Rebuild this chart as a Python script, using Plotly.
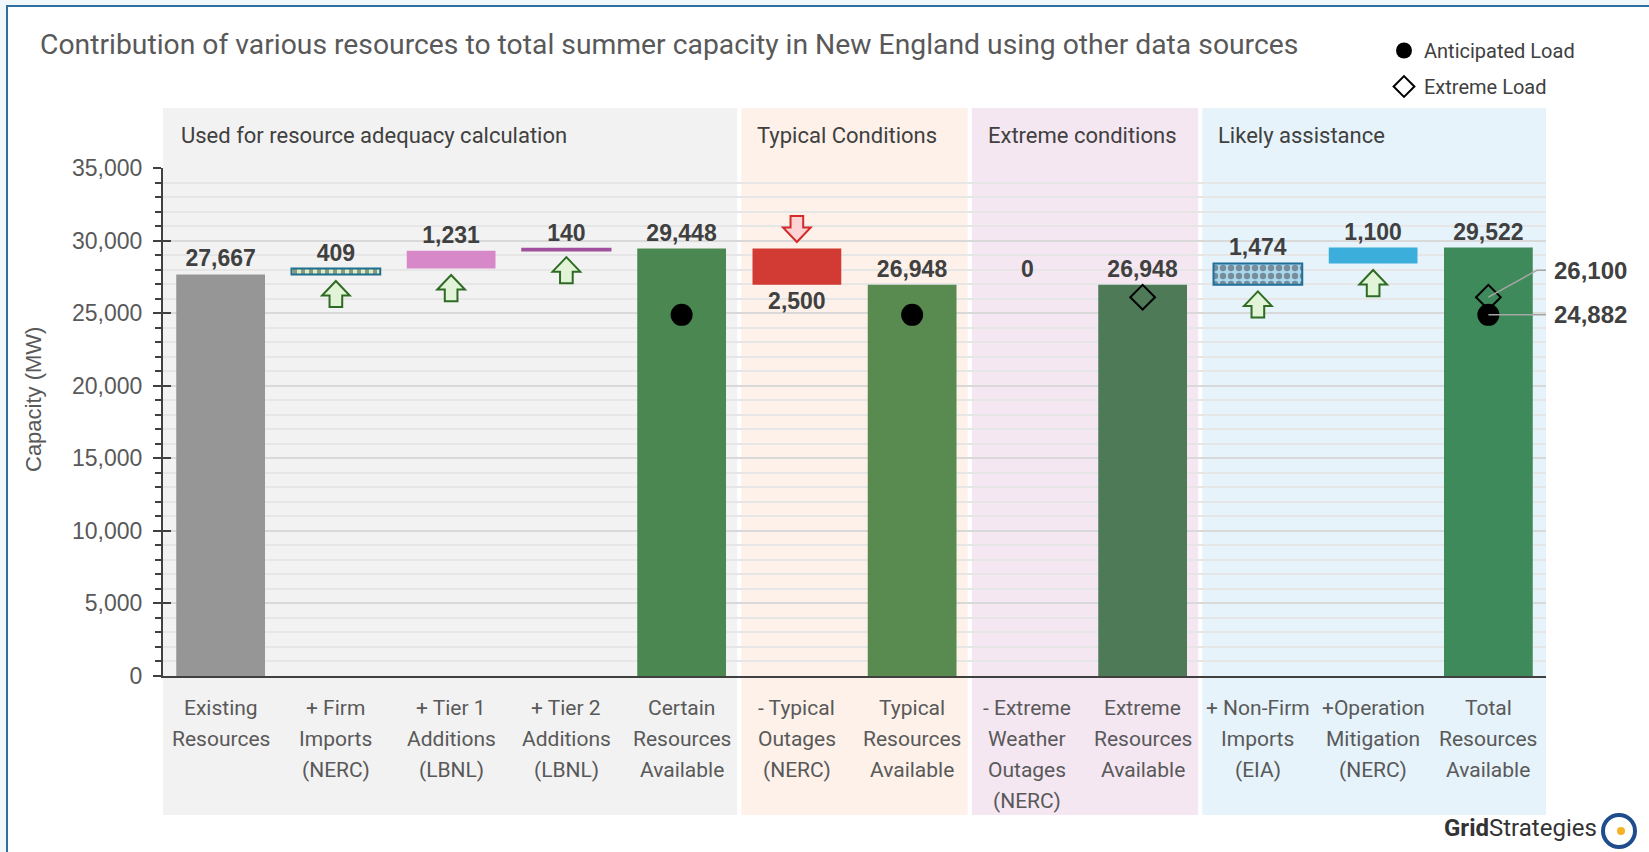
import plotly.graph_objects as go

# ---------------- data ----------------
categories = [
    "Existing<br>Resources",
    "+ Firm<br>Imports<br>(NERC)",
    "+ Tier 1<br>Additions<br>(LBNL)",
    "+ Tier 2<br>Additions<br>(LBNL)",
    "Certain<br>Resources<br>Available",
    "- Typical<br>Outages<br>(NERC)",
    "Typical<br>Resources<br>Available",
    "- Extreme<br>Weather<br>Outages<br>(NERC)",
    "Extreme<br>Resources<br>Available",
    "+ Non-Firm<br>Imports<br>(EIA)",
    "+Operation<br>Mitigation<br>(NERC)",
    "Total<br>Resources<br>Available",
]
values = [27667, 409, 1231, 140, 29448, -2500, 26948, 0, 26948, 1474, 1100, 29522]
kinds = ["total", "delta", "delta", "delta", "total", "delta", "total", "delta", "total", "delta", "delta", "total"]

anticipated_load = 24882
extreme_load = 26100
anticipated_x = [4, 6, 11]
extreme_x = [8, 11]

groups = [
    ("Used for resource adequacy calculation", 0, 4),
    ("Typical Conditions", 5, 6),
    ("Extreme conditions", 7, 8),
    ("Likely assistance", 9, 11),
]
group_colors = ["#f2f2f2", "#fdf1e9", "#f5e7f2", "#e6f3fa"]

bar_colors = ["#969696", "#d7efc5", "#d688c8", "#a0509c", "#4b8751", "#d23b33",
              "#598a4f", "#ffffff", "#4e7a58", "#a9d7ee", "#3caedb", "#3f8a5a"]
line_colors = ["#969696", "#1f6f8f", "#d688c8", "#a0509c", "#4b8751", "#d23b33",
               "#598a4f", "#ffffff", "#4e7a58", "#1f6f9b", "#3caedb", "#3f8a5a"]
line_widths = [0, 2, 0, 1.5, 0, 0, 0, 0, 0, 2, 0, 0]
pattern_shapes = ["", "|", "", "", "", "", "", "", "", ".", "", ""]
pattern_fg = ["#ffffff", "#2f7a50", "#ffffff", "#ffffff", "#ffffff", "#ffffff",
              "#ffffff", "#ffffff", "#ffffff", "#1f6f9b", "#ffffff", "#ffffff"]

# ---------------- derived ----------------
bases = []
running = 0
for v, k in zip(values, kinds):
    if k == "total":
        bases.append(0)
        running = v
    else:
        bases.append(running)
        running += v
labels = [f"{abs(v):,}" for v in values]
x_idx = list(range(len(categories)))

NARROW = "Roboto, sans-serif"
SANS = "Liberation Sans, Arial, sans-serif"

# pixel geometry helpers (plot area 163..1546 x, 168..676 y)
W, H = 1649, 852
L, R, T, B = 163, 103, 168, 176
pw, ph = W - L - R, H - T - B


def px(xp):
    return (xp - L) / pw


def py(yp):
    return (H - B - yp) / ph


fig = go.Figure()

fig.add_trace(go.Bar(
    x=x_idx, y=values, base=bases, width=0.77,
    marker=dict(color=bar_colors, line=dict(color=line_colors, width=line_widths),
                pattern=dict(shape=pattern_shapes, fgcolor=pattern_fg, size=8,
                             solidity=0.5, fillmode="overlay")),
    text=labels, textposition="outside", cliponaxis=False,
    textfont=dict(family=SANS, size=23, color="#404040", weight="bold"),
    constraintext="none", showlegend=False, hoverinfo="skip",
))

fig.add_trace(go.Scatter(
    x=extreme_x, y=[extreme_load] * len(extreme_x), mode="markers", name="Extreme Load",
    marker=dict(symbol="diamond-open", size=19, color="#000000", line=dict(width=2)),
    legendrank=2, legendgroup="ext", cliponaxis=False,
))
fig.add_trace(go.Scatter(
    x=anticipated_x, y=[anticipated_load] * len(anticipated_x), mode="markers",
    name="Anticipated Load",
    marker=dict(symbol="circle", size=22, color="#000000"),
    legendrank=1, legendgroup="ant", cliponaxis=False,
))

shapes = []
# outer frame
shapes.append(dict(type="rect", xref="paper", yref="paper", x0=px(7), x1=px(1700),
                   y0=py(900), y1=py(6), fillcolor="#ffffff",
                   line=dict(color="#2f6f9f", width=2), layer="below"))
# group panels
gap = 0.018
for (name, a, b), col in zip(groups, group_colors):
    x0 = a - 0.5 + (0 if a == 0 else gap)
    x1 = b + 0.5 - (0 if b == len(categories) - 1 else gap)
    shapes.append(dict(type="rect", xref="x", yref="paper", x0=x0, x1=x1,
                       y0=py(815), y1=py(108), fillcolor=col, line=dict(width=0),
                       layer="below"))

# arrows
AH, HEAD, GAP, HW, SW = 1800, 1000, 450, 0.12, 0.055
for i, (v, k, b) in enumerate(zip(values, kinds, bases)):
    if k != "delta" or v == 0:
        continue
    if v > 0:
        top = b - GAP
        bot = top - AH
        neck = top - HEAD
        path = (f"M {i},{top} L {i+HW},{neck} L {i+SW},{neck} L {i+SW},{bot} "
                f"L {i-SW},{bot} L {i-SW},{neck} L {i-HW},{neck} Z")
        shapes.append(dict(type="path", xref="x", yref="y", path=path,
                           fillcolor="#e2f4d8", line=dict(color="#2e6b23", width=2)))
    else:
        bot = b + GAP
        top = bot + AH
        neck = bot + HEAD
        path = (f"M {i},{bot} L {i+HW},{neck} L {i+SW},{neck} L {i+SW},{top} "
                f"L {i-SW},{top} L {i-SW},{neck} L {i-HW},{neck} Z")
        shapes.append(dict(type="path", xref="x", yref="y", path=path,
                           fillcolor="#fdd3d3", line=dict(color="#d42a2a", width=2)))

# leader lines on the last bar
last = len(categories) - 1
shapes.append(dict(type="line", xref="x", yref="y", x0=last, x1=last + 0.52,
                   y0=anticipated_load, y1=anticipated_load,
                   line=dict(color="#a6a6a6", width=1.5)))
elbow_y = extreme_load + 1850
shapes.append(dict(type="path", xref="x", yref="y",
                   path=f"M {last},{extreme_load} L {last+0.42},{elbow_y} L {last+0.52},{elbow_y}",
                   line=dict(color="#a6a6a6", width=1.5)))

# logo icon
shapes.append(dict(type="circle", xref="paper", yref="paper", xsizemode="pixel",
                   ysizemode="pixel", xanchor=px(1619), yanchor=py(831),
                   x0=-16, x1=16, y0=-16, y1=16, line=dict(color="#1e4c8c", width=4)))
shapes.append(dict(type="circle", xref="paper", yref="paper", xsizemode="pixel",
                   ysizemode="pixel", xanchor=px(1621), yanchor=py(831),
                   x0=-4, x1=4, y0=-4, y1=4, fillcolor="#f5b324", line=dict(width=0)))

annotations = []
for (name, a, b) in groups:
    annotations.append(dict(text=name, xref="x", yref="paper", x=a - 0.5 + 0.14,
                            y=py(136), xanchor="left", yanchor="middle", showarrow=False,
                            font=dict(family=NARROW, size=22, color="#404040")))
# category labels under the axis, one line at a time (wider line spacing than tick labels)
LINE0, LINE_STEP = 708, 31
for i, cat in enumerate(categories):
    for k, line in enumerate(cat.split("<br>")):
        annotations.append(dict(text=line, xref="x", yref="paper", x=i,
                                y=py(LINE0 + LINE_STEP * k), xanchor="center",
                                yanchor="middle", showarrow=False,
                                font=dict(family=NARROW, size=21, color="#595959")))
label_x = px(1552)
annotations.append(dict(text=f"{extreme_load:,}", xref="paper", yref="y", x=label_x,
                        y=elbow_y, xanchor="left", yanchor="middle", showarrow=False,
                        font=dict(family=SANS, size=24, color="#404040", weight="bold")))
annotations.append(dict(text=f"{anticipated_load:,}", xref="paper", yref="y", x=label_x,
                        y=anticipated_load, xanchor="left", yanchor="middle", showarrow=False,
                        font=dict(family=SANS, size=24, color="#404040", weight="bold")))
annotations.append(dict(text="Capacity (MW)", xref="paper", yref="paper", x=px(33), y=py(400),
                        textangle=-90, showarrow=False, xanchor="center", yanchor="middle",
                        font=dict(family=SANS, size=22, color="#595959")))
annotations.append(dict(text="<b>Grid</b>Strategies", xref="paper", yref="paper", x=px(1599),
                        y=py(828), xanchor="right", yanchor="middle", showarrow=False,
                        font=dict(family=NARROW, size=24, color="#333333")))

fig.update_layout(
    width=W, height=H, margin=dict(l=L, r=R, t=T, b=B, autoexpand=False),
    paper_bgcolor="#f1f8fc", plot_bgcolor="rgba(0,0,0,0)",
    title=dict(text="Contribution of various resources to total summer capacity in New England using other data sources",
               x=40 / W, xanchor="left", y=1 - 44 / H, yanchor="middle",
               font=dict(family=NARROW, size=28.3, color="#595959")),
    showlegend=True,
    legend=dict(x=px(1384), y=py(31), xanchor="left", yanchor="top",
                bgcolor="rgba(0,0,0,0)", font=dict(family=NARROW, size=20, color="#404040"),
                itemwidth=30, tracegroupgap=7),
    shapes=shapes, annotations=annotations, bargap=0.23,
    xaxis=dict(range=[-0.5, len(categories) - 0.5], tickvals=x_idx, ticktext=categories,
               showticklabels=False, showgrid=False, zeroline=False, showline=True,
               linecolor="#404040", linewidth=2, ticks=""),
    yaxis=dict(range=[0, 35000], tickvals=list(range(0, 35001, 5000)),
               tickformat=",", showgrid=True, gridcolor="#d9d9d9", gridwidth=2,
               zeroline=False, showline=True, linecolor="#404040", linewidth=2,
               ticks="outside", ticklen=8, tickwidth=2, tickcolor="#404040",
               tickfont=dict(family=SANS, size=23, color="#595959"), ticklabelstandoff=6,
               minor=dict(dtick=1000, showgrid=True, gridcolor="#e6e6e6", gridwidth=1.5,
                          ticks="outside", ticklen=6, tickwidth=2, tickcolor="#404040")),
    yaxis2=dict(range=[0, 35000], overlaying="y", side="left", anchor="x",
                tickvals=list(range(0, 35001, 5000)), showticklabels=False, showgrid=False,
                zeroline=False, ticks="inside", ticklen=8, tickwidth=2, tickcolor="#404040",
                showline=False),
)
# empty trace so the overlaid axis (inner half of the crossing ticks) is drawn
fig.add_trace(go.Scatter(x=[None], y=[None], yaxis="y2", showlegend=False, hoverinfo="skip"))

fig.write_html("out.html", config={"displayModeBar": False},
               post_script="document.body.style.margin='0';")
